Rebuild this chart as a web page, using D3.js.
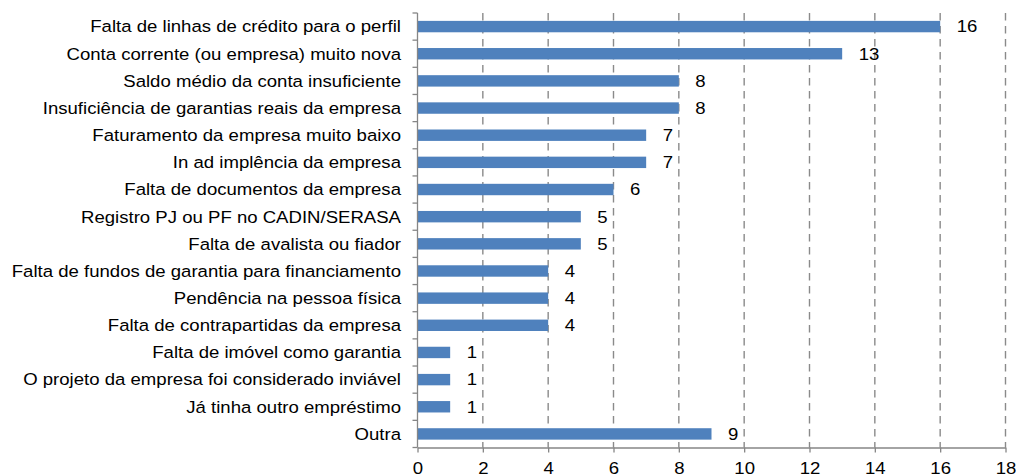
<!DOCTYPE html>
<html>
<head>
<meta charset="utf-8">
<script src="https://cdn.jsdelivr.net/npm/d3@7"></script>
<style>
  body { margin: 0; background: #fff; }
  text { font-family: "Liberation Sans", Arial, sans-serif; fill: #000; }
</style>
</head>
<body>
<div id="chart"></div>
<script>
var categories = [
  "Falta de linhas de crédito para o perfil",
  "Conta corrente (ou empresa) muito nova",
  "Saldo médio da conta insuficiente",
  "Insuficiência de garantias reais da empresa",
  "Faturamento da empresa muito baixo",
  "In ad implência da empresa",
  "Falta de documentos da empresa",
  "Registro PJ ou PF no CADIN/SERASA",
  "Falta de avalista ou fiador",
  "Falta de fundos de garantia para financiamento",
  "Pendência na pessoa física",
  "Falta de contrapartidas da empresa",
  "Falta de imóvel como garantia",
  "O projeto da empresa foi considerado inviável",
  "Já tinha outro empréstimo",
  "Outra"
];
var values = [16, 13, 8, 8, 7, 7, 6, 5, 5, 4, 4, 4, 1, 1, 1, 9];
var xTicks = [0, 2, 4, 6, 8, 10, 12, 14, 16, 18];

var W = 1016, H = 476;
var margin = {top: 13, right: 10, bottom: 28, left: 417.5};
var width = 1005.5 - margin.left,
    height = 447.5 - margin.top;
var fontSize = "16.3px";
var sx = 1.14; // text in the picture is a little stretched sideways

var svg = d3.select("#chart").append("svg")
    .attr("width", W).attr("height", H);
var g = svg.append("g")
    .attr("transform", "translate(" + margin.left + "," + margin.top + ")");

var x = d3.scaleLinear().domain([0, 18]).range([0, width]);
var y = d3.scaleBand().domain(categories).range([0, height]).paddingInner(0.58).paddingOuter(0.29);

// place a text at (px,py) stretched horizontally
function place(sel, px, py) {
  sel.attr("transform", function(d, i){
    return "translate(" + px(d, i) + "," + py(d, i) + ") scale(" + sx + ",1)";
  });
}

// dashed gridlines
g.selectAll(".grid")
  .data(xTicks.slice(1))
  .enter().append("line")
    .attr("x1", function(d){ return x(d); })
    .attr("x2", function(d){ return x(d); })
    .attr("y1", 0).attr("y2", height)
    .style("stroke", "#8a8a8a")
    .style("stroke-width", 1.4)
    .style("stroke-dasharray", "7.5,5.5");

// bars
g.selectAll(".bar")
  .data(values)
  .enter().append("rect")
    .attr("x", 0)
    .attr("y", function(d, i){ return y(categories[i]); })
    .attr("width", function(d){ return x(d); })
    .attr("height", y.bandwidth())
    .style("fill", "#4F81BD");

// value labels
var vals = g.selectAll(".val")
  .data(values)
  .enter().append("text")
    .attr("dy", "0.36em")
    .style("font-size", fontSize)
    .text(function(d){ return d; });
place(vals, function(d){ return x(d) + 16.5; },
  function(d, i){ return y(categories[i]) + y.bandwidth() / 2; });

// category labels
var step = height / categories.length;
var cats = g.selectAll(".cat")
  .data(categories)
  .enter().append("text")
    .attr("dy", "0.36em")
    .attr("text-anchor", "end")
    .style("font-size", fontSize)
    .text(function(d){ return d; });
place(cats, function(){ return -16.5; }, function(d, i){ return step * i + step / 2; });

// y axis line + ticks
var axisColor = "#868686";
g.append("line").attr("x1", 0).attr("x2", 0).attr("y1", 0).attr("y2", height)
  .style("stroke", axisColor).style("stroke-width", 1.3);
g.selectAll(".ytick")
  .data(d3.range(categories.length + 1))
  .enter().append("line")
    .attr("x1", -5).attr("x2", 0)
    .attr("y1", function(d){ return d * step; })
    .attr("y2", function(d){ return d * step; })
    .style("stroke", axisColor).style("stroke-width", 1.3);

// x axis
var xAxis = g.append("g")
    .attr("transform", "translate(0," + height + ")")
    .call(d3.axisBottom(x).tickValues(xTicks).tickSize(5).tickPadding(9.5).tickSizeOuter(0));
xAxis.select(".domain").style("stroke", axisColor).style("stroke-width", 1.3);
xAxis.selectAll(".tick line").style("stroke", axisColor).style("stroke-width", 1.3);
xAxis.selectAll("text")
    .attr("transform", "scale(" + sx + ",1)")
    .attr("x", 0)
    .style("font-size", fontSize)
    .style("font-family", "'Liberation Sans', Arial, sans-serif")
    .style("fill", "#000");
</script>
</body>
</html>
